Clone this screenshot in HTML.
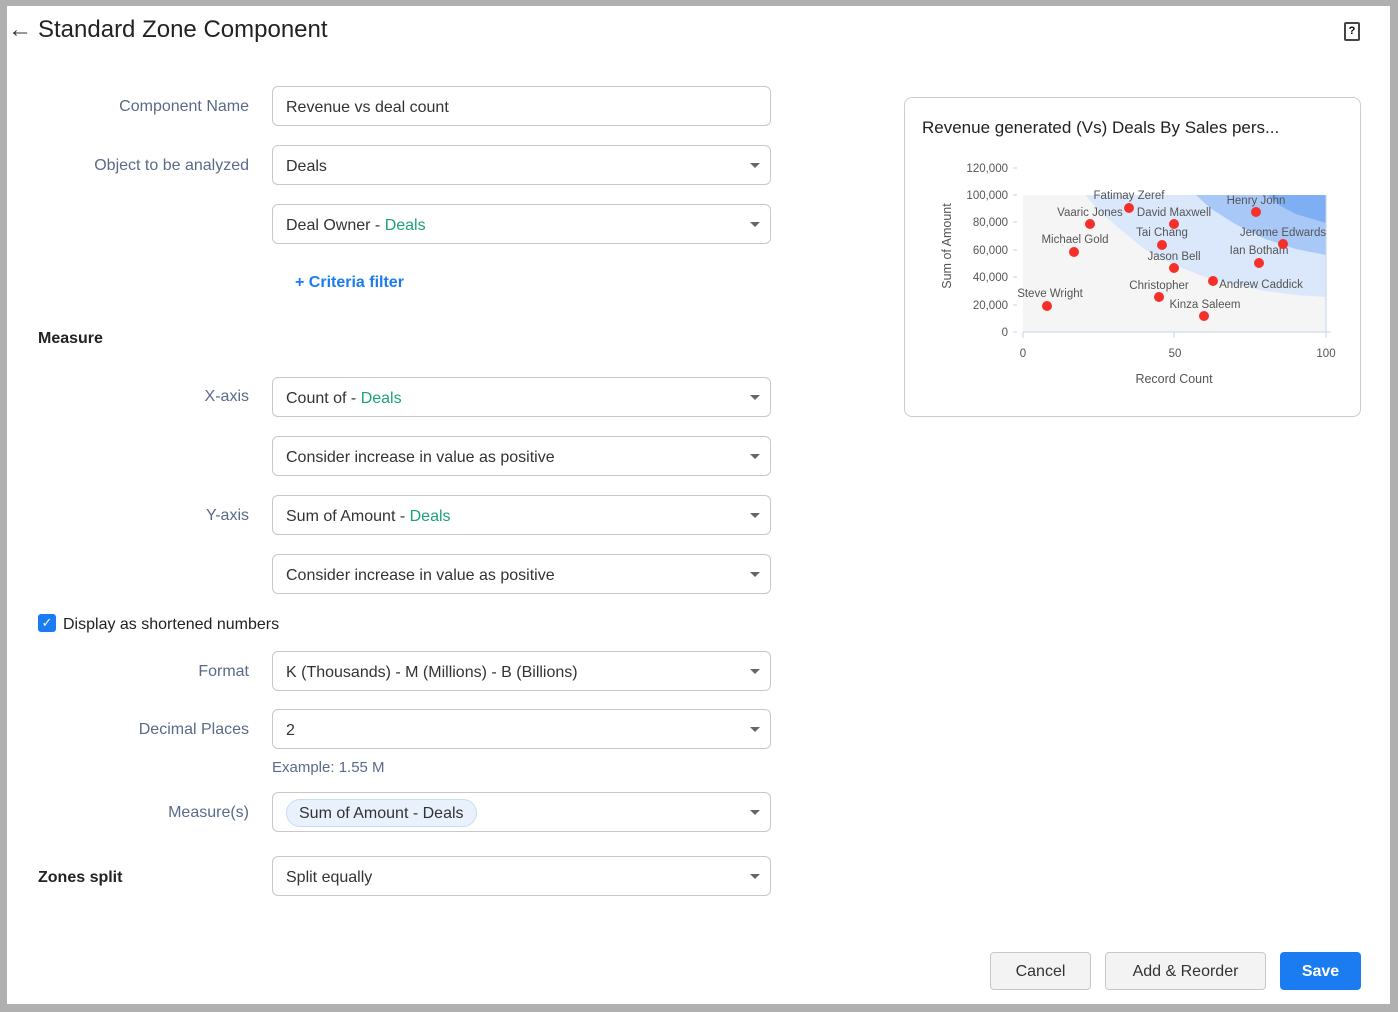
<!DOCTYPE html>
<html><head><meta charset="utf-8"><style>
*{box-sizing:border-box;margin:0;padding:0}
body{width:1398px;height:1012px;background:#b0b0b0;font-family:"Liberation Sans",sans-serif;position:relative;overflow:hidden}
.page{position:absolute;left:7px;top:6px;width:1383px;height:998px;background:#fff}
.a{position:absolute}
.lbl{position:absolute;right:1149px;font-size:16px;color:#5a6a88;white-space:nowrap;margin-top:2px}
.in{position:absolute;left:272px;width:499px;height:40px;border:1px solid #c8c8c8;border-radius:6px;font-size:16px;color:#333;padding-left:13px;line-height:41px;white-space:nowrap}
.dd::after{content:"";position:absolute;right:10px;top:17px;border-left:5px solid transparent;border-right:5px solid transparent;border-top:5px solid #666}
.g{color:#1aa37a}
.sec{position:absolute;left:38px;font-size:16px;font-weight:bold;color:#222;margin-top:2px}
.btn{position:absolute;top:952px;height:38px;border:1px solid #c8c8c8;border-radius:4px;background:#f3f3f3;font-size:16px;color:#333;text-align:center;line-height:37px}
</style></head><body>
<div class="page"></div>
<div class="a" style="left:8px;top:16px;font-size:24px;color:#333">←</div>
<div class="a" style="left:38px;top:16px;font-size:24px;color:#222">Standard Zone Component</div>
<div class="a" style="left:1344px;top:22px;width:16px;height:19px;border:2px solid #444;border-radius:2px;font-size:11px;text-align:center;line-height:15px;font-weight:bold">?</div>

<div class="lbl" style="top:96px">Component Name</div>
<div class="in" style="top:86px">Revenue vs deal count</div>
<div class="lbl" style="top:155px">Object to be analyzed</div>
<div class="in dd" style="top:145px">Deals</div>
<div class="in dd" style="top:204px">Deal Owner - <span class="g">Deals</span></div>
<div class="a" style="left:295px;top:274px;font-size:16px;color:#1a7cf0;font-weight:bold">+ Criteria filter</div>
<div class="sec" style="top:328px">Measure</div>
<div class="lbl" style="top:386px">X-axis</div>
<div class="in dd" style="top:377px">Count of - <span class="g">Deals</span></div>
<div class="in dd" style="top:436px">Consider increase in value as positive</div>
<div class="lbl" style="top:505px">Y-axis</div>
<div class="in dd" style="top:495px">Sum of Amount - <span class="g">Deals</span></div>
<div class="in dd" style="top:554px">Consider increase in value as positive</div>
<div class="a" style="left:38px;top:614px;width:18px;height:18px;background:#1a7cf0;border-radius:3px;color:#fff;font-size:13px;text-align:center;line-height:18px">✓</div>
<div class="a" style="left:63px;top:616px;font-size:16px;color:#222">Display as shortened numbers</div>
<div class="lbl" style="top:661px">Format</div>
<div class="in dd" style="top:651px">K (Thousands) - M (Millions) - B (Billions)</div>
<div class="lbl" style="top:719px">Decimal Places</div>
<div class="in dd" style="top:709px">2</div>
<div class="a" style="left:272px;top:759px;font-size:15px;color:#5a6a88">Example: 1.55 M</div>
<div class="lbl" style="top:802px">Measure(s)</div>
<div class="in dd" style="top:792px"><span style="position:absolute;left:13px;top:6px;height:28px;line-height:28px;padding:0 12px;background:#e8f1fc;border:1px solid #c8dcf3;border-radius:14px">Sum of Amount - Deals</span></div>
<div class="sec" style="top:867px">Zones split</div>
<div class="in dd" style="top:856px">Split equally</div>

<div class="btn" style="left:990px;width:101px">Cancel</div>
<div class="btn" style="left:1105px;width:161px">Add &amp; Reorder</div>
<div class="btn" style="left:1280px;width:81px;background:#1a7cf0;border-color:#1a7cf0;color:#fff;font-weight:bold">Save</div>

<div class="a" style="left:904px;top:97px;width:457px;height:320px;border:1px solid #ccc;border-radius:8px"></div>
<div class="a" style="left:922px;top:118px;font-size:17px;color:#222">Revenue generated (Vs) Deals By Sales pers...</div>
<svg class="a" style="left:0;top:0" width="1398" height="1012" font-family="Liberation Sans,sans-serif" font-size="11.5" fill="#555">
<rect x="1023" y="195" width="303" height="137" fill="#f5f5f5"/>
<path d="M1085,195 L1100,212 L1113.9,224 L1144.2,249 L1174.5,265 L1204.8,277 L1235.1,285 L1265.4,291 L1295.7,295 L1326,297 L1326,195Z" fill="#dbe8fb"/>
<path d="M1196,195 L1210,208 L1235.1,224 L1265.4,239 L1295.7,249 L1326,255 L1326,195Z" fill="#a8c8f7"/>
<path d="M1267,195 L1280.6,206 L1295.7,214 L1326,223 L1326,195Z" fill="#7eaef3"/>
<line x1="1023" y1="332" x2="1331" y2="332" stroke="#c5d3ea"/>
<line x1="1326" y1="195" x2="1326" y2="332" stroke="#c5d3ea"/>
<g stroke="#c5d3ea"><line x1="1023" y1="332" x2="1023" y2="338"/><line x1="1174" y1="332" x2="1174" y2="338"/><line x1="1326" y1="332" x2="1326" y2="338"/>
<line x1="1013" y1="168" x2="1017" y2="168"/><line x1="1013" y1="195" x2="1017" y2="195"/><line x1="1013" y1="222" x2="1017" y2="222"/><line x1="1013" y1="250" x2="1017" y2="250"/><line x1="1013" y1="277" x2="1017" y2="277"/><line x1="1013" y1="305" x2="1017" y2="305"/><line x1="1013" y1="332" x2="1017" y2="332"/></g>
<g text-anchor="end"><text x="1008" y="172">120,000</text><text x="1008" y="199">100,000</text><text x="1008" y="226">80,000</text><text x="1008" y="254">60,000</text><text x="1008" y="281">40,000</text><text x="1008" y="309">20,000</text><text x="1008" y="336">0</text></g>
<g text-anchor="middle"><text x="1023" y="357">0</text><text x="1175" y="357">50</text><text x="1326" y="357">100</text>
<text x="1174" y="383" font-size="12.5">Record Count</text>
<text transform="translate(951,246) rotate(-90)" font-size="12.5">Sum of Amount</text>
<text x="1129" y="199">Fatimay Zeref</text><text x="1090" y="216">Vaaric Jones</text><text x="1174" y="216">David Maxwell</text>
<text x="1162" y="236">Tai Chang</text><text x="1075" y="243">Michael Gold</text><text x="1256" y="204">Henry John</text>
<text x="1283" y="236">Jerome Edwards</text><text x="1259" y="254">Ian Botham</text><text x="1174" y="260">Jason Bell</text>
<text x="1261" y="288">Andrew Caddick</text><text x="1159" y="289">Christopher</text><text x="1205" y="308">Kinza Saleem</text><text x="1050" y="297">Steve Wright</text></g>
<g fill="#f5302a"><circle cx="1129" cy="208" r="5"/><circle cx="1090" cy="224" r="5"/><circle cx="1174" cy="224" r="5"/><circle cx="1162" cy="245" r="5"/><circle cx="1074" cy="252" r="5"/><circle cx="1256" cy="212" r="5"/><circle cx="1283" cy="244" r="5"/><circle cx="1259" cy="263" r="5"/><circle cx="1174" cy="268" r="5"/><circle cx="1213" cy="281" r="5"/><circle cx="1159" cy="297" r="5"/><circle cx="1204" cy="316" r="5"/><circle cx="1047" cy="306" r="5"/></g>
</svg>
</body></html>
